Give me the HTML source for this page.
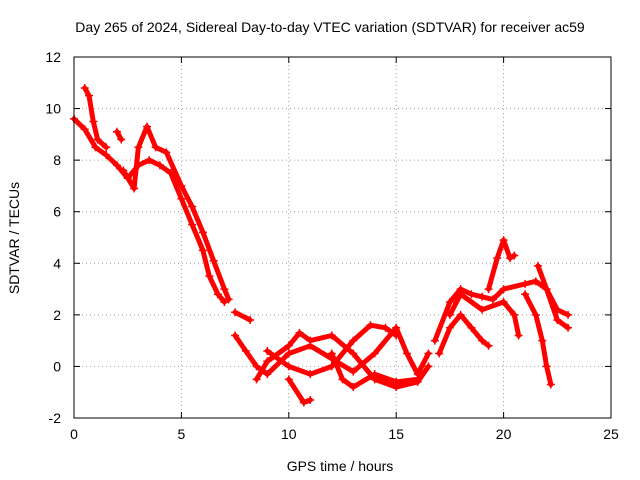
<!DOCTYPE html>
<html><head><meta charset="utf-8"><style>
body{margin:0;background:#fff;}
svg{display:block;font-family:"Liberation Sans",sans-serif;}
</style></head><body>
<svg id="chart" width="640" height="480" viewBox="0 0 640 480">
<rect width="640" height="480" fill="#fff"/>
<text x="330" y="32" font-size="14" text-anchor="middle">Day 265 of 2024, Sidereal Day-to-day VTEC variation (SDTVAR) for receiver ac59</text>
<text x="340" y="471" font-size="14" text-anchor="middle">GPS time / hours</text>
<text transform="translate(19,238) rotate(-90)" font-size="14" text-anchor="middle">SDTVAR / TECUs</text>
<g id="grid"></g>
<g id="ticks"></g>
<g id="series"></g>
<rect x="74" y="57" width="537" height="361" fill="none" stroke="#000" stroke-width="1"/>
</svg>
<script>
const xTicks=[0,5,10,15,20,25];
const yTicks=[-2,0,2,4,6,8,10,12];
const trackA=[[0,9.6],[0.5,9.2],[1,8.5],[1.5,8.2],[2,7.8],[2.5,7.3],[3,7.8],[3.5,8.0],[4,7.8],[4.5,7.5],[5,6.5],[5.5,5.5],[6,4.5],[6.3,3.5],[6.7,2.8],[7,2.5]];
const trackB=[[0.5,10.8],[0.7,10.5],[0.9,9.5],[1.1,8.8],[1.5,8.5]];
const trackB2=[[2,9.1],[2.2,8.8]];
const trackC=[[2.3,7.6],[2.8,6.9],[3,8.5],[3.4,9.3],[3.8,8.5],[4.3,8.3],[5,7],[5.5,6.2],[6,5.2],[6.5,4.1],[7,3],[7.2,2.6]];
const trackD=[[7.5,1.2],[8,0.6],[8.5,0],[9,-0.3],[10,0.5],[11,0.8],[12,0.3],[13,-0.2],[14,0.5],[15,1.5],[15.5,0.5],[16,-0.3],[16.5,0.5]];
const trackE=[[7.5,2.1],[8.2,1.8]];
const trackF=[[8.5,-0.5],[9,0.2],[10,0.8],[10.5,1.3],[11,1],[12,1.2],[13,0.5],[14,-0.5],[15,-0.8],[16,-0.6],[16.5,0]];
const trackG=[[10,-0.5],[10.7,-1.4],[11,-1.3]];
const trackH=[[9,0.6],[10,0],[11,-0.3],[12,0],[13,1],[13.8,1.6],[14.5,1.5],[15,1.2]];
const trackI=[[12,0.5],[12.5,-0.5],[13,-0.8],[14,-0.3],[15,-0.6],[16,-0.5]];
const trackJ=[[16.8,1],[17.5,2.5],[18,3],[18.5,2.8],[19,2.7],[19.5,2.6],[20,3],[21,3.2],[21.5,3.3],[22,3],[22.5,2.2],[23,2]];
const trackK=[[17,0.5],[17.5,1.5],[18,2],[18.5,1.5],[19,1],[19.3,0.8]];
const trackL=[[19.3,3],[19.7,4.2],[20,4.9],[20.3,4.2],[20.5,4.3]];
const trackM=[[17.5,2],[18,2.8],[19,2.2],[20,2.5],[20.5,2],[20.7,1.2]];
const trackN=[[21,2.8],[21.5,2],[21.8,1],[22,0],[22.2,-0.7]];
const trackO=[[21.6,3.9],[22,3],[22.5,1.8],[23,1.5]];
const allTracks=[trackA,trackB,trackB2,trackC,trackD,trackE,trackF,trackG,trackH,trackI,trackJ,trackK,trackL,trackM,trackN,trackO];
const NS="http://www.w3.org/2000/svg";
const X0=74,X1=611,Y0=418,Y1=57;
function sx(v){return X0+(v-0)/(25-0)*(X1-X0);}
function sy(v){return Y0-(v-(-2))/(12-(-2))*(Y0-Y1);}
function mk(tag,attrs,parent){const e=document.createElementNS(NS,tag);for(const k in attrs)e.setAttribute(k,attrs[k]);parent.appendChild(e);return e;}
const grid=document.getElementById('grid'),ticks=document.getElementById('ticks'),series=document.getElementById('series');
xTicks.forEach(t=>{
  const x=sx(t);
  if(t>0&&t<25){const g=mk('line',{x1:x,x2:x,y1:Y1,y2:Y0,stroke:'#a0a0a0','stroke-dasharray':'1,3'},grid);
  
  }
  mk('line',{x1:x,x2:x,y1:Y0,y2:Y0-6,stroke:'#000'},ticks);
  mk('line',{x1:x,x2:x,y1:Y1,y2:Y1+6,stroke:'#000'},ticks);
  const l=mk('text',{x:x,y:Y0+21,'font-size':14,'text-anchor':'middle'},ticks);l.textContent=t;
  
  
});
yTicks.forEach(t=>{
  const y=sy(t);
  if(t>-2&&t<12){const g=mk('line',{x1:X0,x2:X1,y1:y,y2:y,stroke:'#a0a0a0','stroke-dasharray':'1,3'},grid);
  
  }
  mk('line',{x1:X0,x2:X0+6,y1:y,y2:y,stroke:'#000'},ticks);
  mk('line',{x1:X1,x2:X1-6,y1:y,y2:y,stroke:'#000'},ticks);
  const l=mk('text',{x:X0-13,y:y+5,'font-size':14,'text-anchor':'end'},ticks);l.textContent=t;
  
  
});
allTracks.forEach((tr,i)=>{
  const pts=tr.map(p=>sx(p[0]).toFixed(1)+','+sy(p[1]).toFixed(1)).join(' ');
  const pl=mk('polyline',{points:pts,fill:'none',stroke:'#ff0000','stroke-width':5,'stroke-linejoin':'round','stroke-linecap':'round'},series);
  
  
  tr.forEach(p=>{
    const x=sx(p[0]),y=sy(p[1]);
    const m=mk('path',{d:`M${x-4},${y}H${x+4}M${x},${y-4}V${y+4}`,stroke:'#ff0000','stroke-width':1.5},series);
    
    
  });
});
</script>
</body></html>
